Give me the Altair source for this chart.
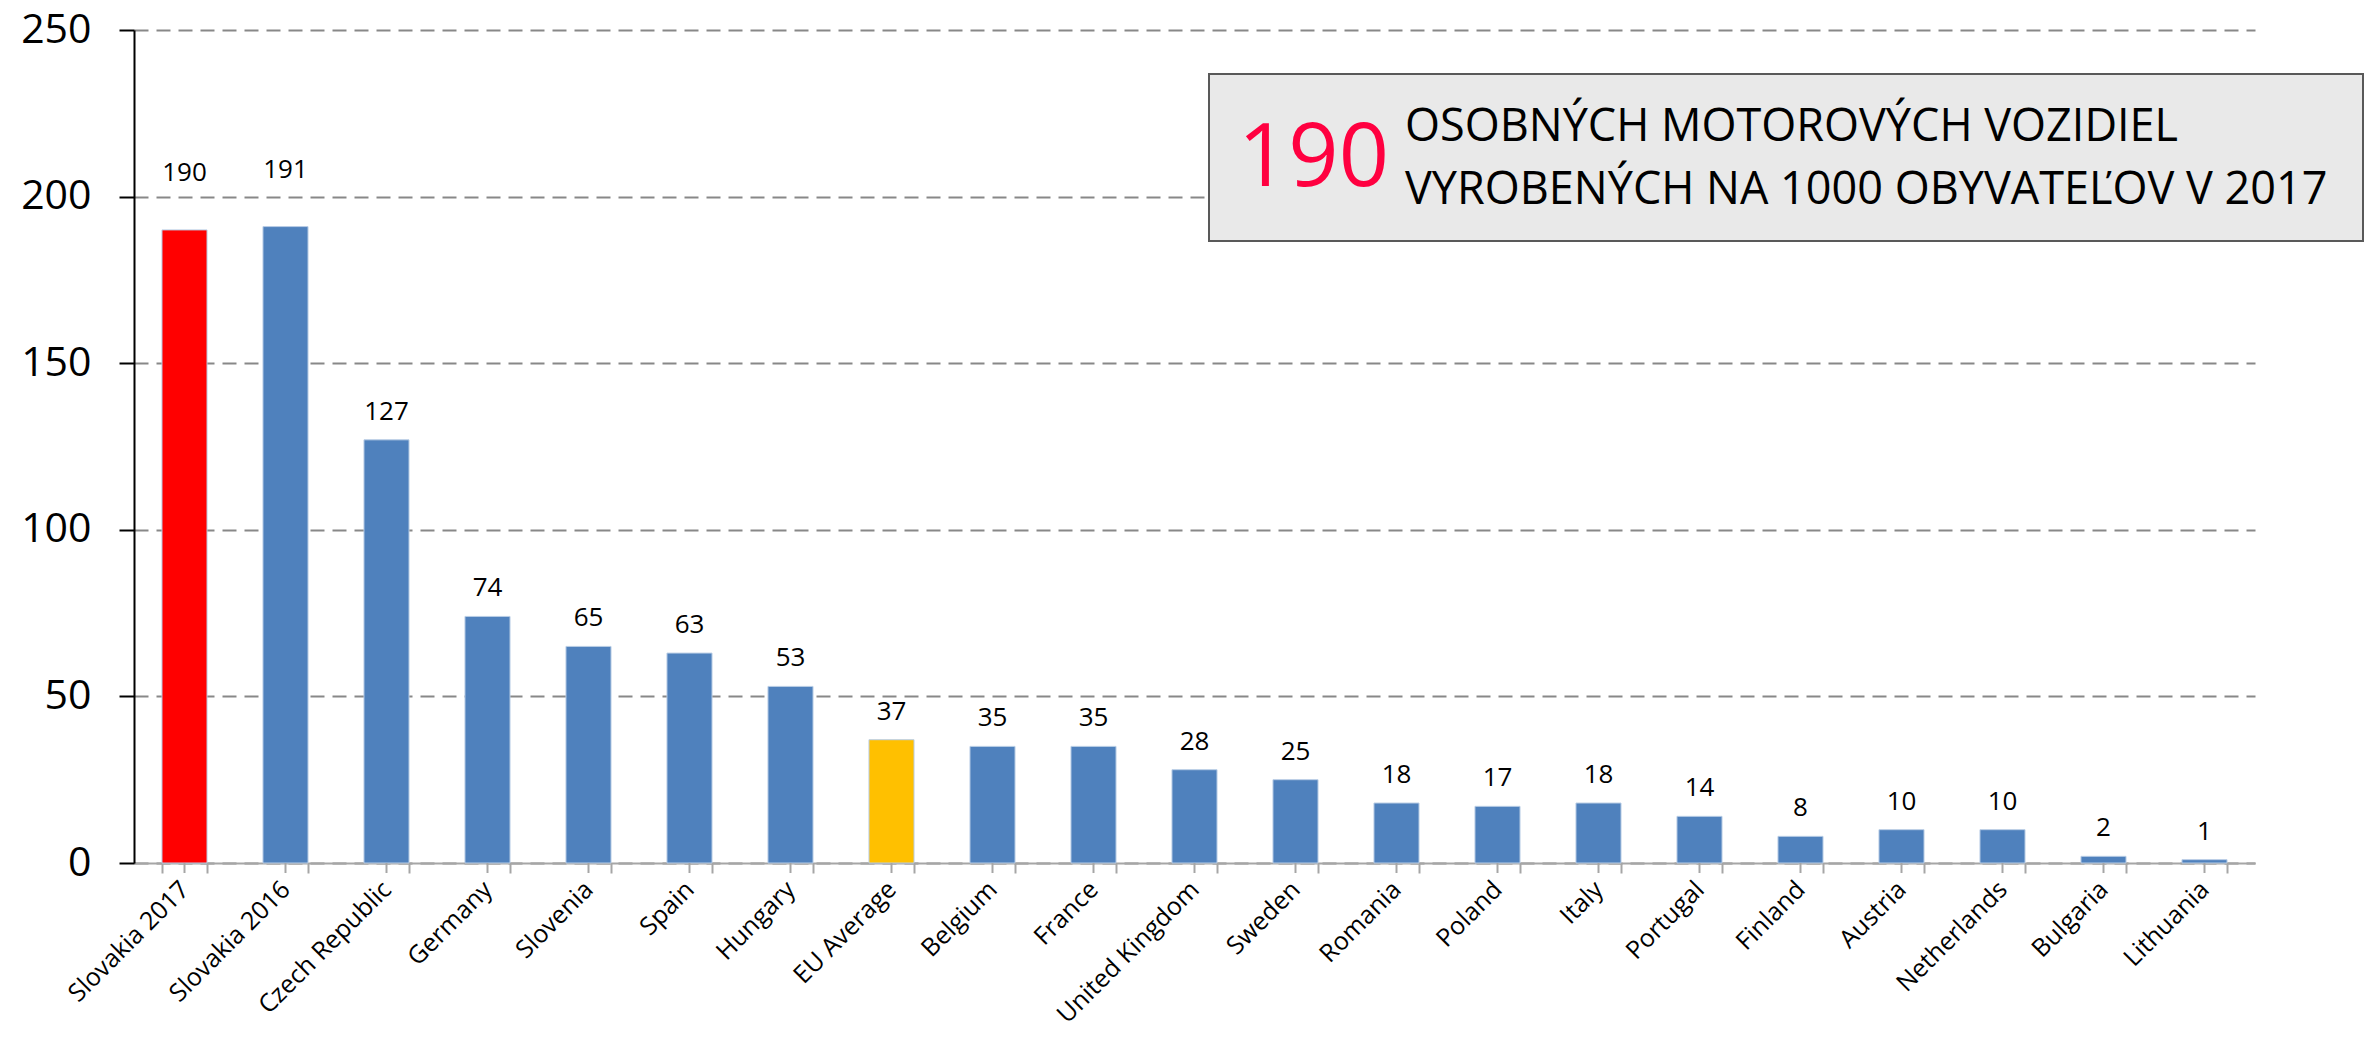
import altair as alt
import pandas as pd

categories = ["Slovakia 2017", "Slovakia 2016", "Czech Republic", "Germany", "Slovenia",
              "Spain", "Hungary", "EU Average", "Belgium", "France", "United Kingdom",
              "Sweden", "Romania", "Poland", "Italy", "Portugal", "Finland", "Austria",
              "Netherlands", "Bulgaria", "Lithuania"]
values = [190, 191, 127, 74, 65, 63, 53, 37, 35, 35, 28, 25, 18, 17, 18, 14, 8, 10, 10, 2, 1]
groups = ["Slovakia 2017"] + ["country"] * 6 + ["average"] + ["country"] * 13
group_domain = ["Slovakia 2017", "country", "average"]
group_colors = ["#FF0000", "#4F81BD", "#FFC000"]
y_ticks = [0, 50, 100, 150, 200, 250]

box_number = "190"
box_line1 = "OSOBNÝCH MOTOROVÝCH VOZIDIEL"
box_line2 = "VYROBENÝCH NA 1000 OBYVATEĽOV V 2017"

df = pd.DataFrame({"cat": categories, "val": values, "grp": groups,
                   "idx": list(range(len(categories)))})

FONT = "Open Sans"
W, H = 2121, 833

xenc = alt.X("cat:N", sort=categories, title=None,
             scale=alt.Scale(paddingInner=0.554, paddingOuter=0.277),
             axis=alt.Axis(labelAngle=-45, labelAlign="right", labelBaseline="middle",
                           labelFontSize=25, labelFont=FONT, labelColor="#000000",
                           labelLimit=500, labelPadding=12, tickBand="extent", tickSize=10,
                           tickColor="#A6A6A6", tickWidth=2, domainColor="#A6A6A6",
                           domainWidth=2, grid=False))
yenc = alt.Y("val:Q", title=None,
             scale=alt.Scale(domain=[0, 250], nice=False),
             axis=alt.Axis(values=y_ticks, labelFontSize=41, labelFont=FONT,
                           labelColor="#000000", labelPadding=28, tickSize=15,
                           tickColor="#000000", tickWidth=2, domainColor="#000000",
                           domainWidth=2, gridColor="#888888", gridWidth=2,
                           gridDash=[14, 8]))

base = alt.Chart(df)

bars = base.mark_bar(stroke="#B9CDE5", strokeWidth=1).encode(
    x=xenc, y=yenc,
    color=alt.Color("grp:N", scale=alt.Scale(domain=group_domain, range=group_colors),
                    legend=None),
)

center_ticks = base.mark_rule(color="#A6A6A6", strokeWidth=2).encode(
    x=alt.X("cat:N", sort=categories),
    y=alt.value(H), y2=alt.value(H + 10),
)

labels_low = base.transform_filter("datum.idx >= 2").mark_text(
    dy=-28, baseline="middle", fontSize=26, font=FONT, color="#000000"
).encode(x=alt.X("cat:N", sort=categories), y="val:Q", text="val:Q")

labels_high = base.transform_filter("datum.idx < 2").mark_text(
    dy=-57, baseline="middle", fontSize=26, font=FONT, color="#000000"
).encode(x=alt.X("cat:N", sort=categories), y="val:Q", text="val:Q")

one = alt.Chart(pd.DataFrame({"n": [box_number], "l1": [box_line1], "l2": [box_line2]}))
box = one.mark_rect(fill="#E9E9E9", stroke="#595959", strokeWidth=2).encode(
    x=alt.value(1075), x2=alt.value(2229), y=alt.value(44), y2=alt.value(211))
big = one.mark_text(align="left", baseline="middle", fontSize=88, font=FONT,
                    color="#FF0040").encode(x=alt.value(1104), y=alt.value(130), text="n:N")
line1 = one.mark_text(align="left", baseline="middle", fontSize=45, font=FONT,
                      color="#000000").encode(x=alt.value(1271), y=alt.value(97), text="l1:N")
line2 = one.mark_text(align="left", baseline="middle", fontSize=45, font=FONT,
                      color="#000000").encode(x=alt.value(1271), y=alt.value(160), text="l2:N")

chart = alt.layer(bars, center_ticks, labels_low, labels_high, box, big, line1, line2).properties(
    width=W, height=H,
    autosize=alt.AutoSizeParams(type="none"),
    padding={"left": 134, "top": 30, "right": 111, "bottom": 174},
).configure(background="#FFFFFF").configure_view(stroke=None)

chart.save("out.html", embed_options={"renderer": "svg", "actions": False})
